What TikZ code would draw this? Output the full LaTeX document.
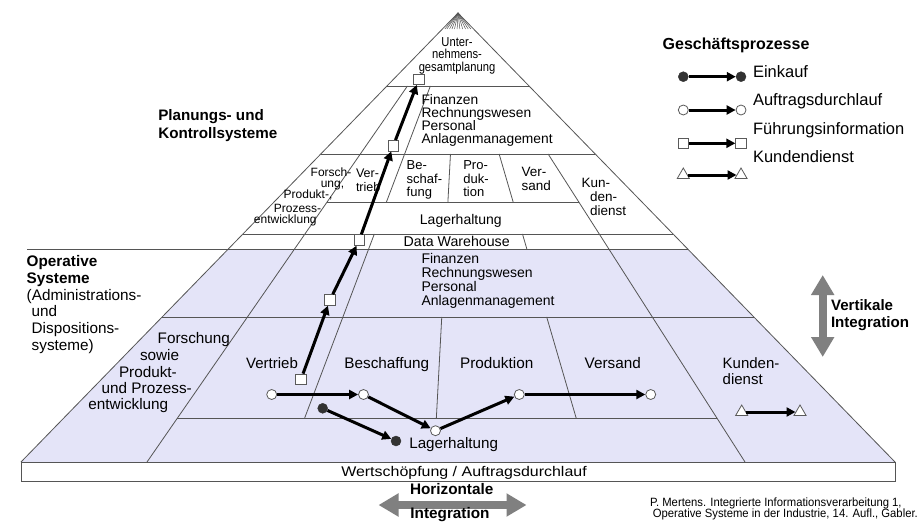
\documentclass[tikz,border=0pt]{standalone}
\usepackage{fontspec}
\setmainfont{Liberation Sans}
\usepackage{graphicx}
\usetikzlibrary{arrows.meta,shapes.geometric}
\definecolor{lav}{RGB}{228,228,248}
\definecolor{ln}{RGB}{85,85,85}
\definecolor{mk}{RGB}{90,90,90}
\definecolor{dot}{RGB}{50,50,50}
\definecolor{garrow}{RGB}{128,128,128}
\newcommand{\radpt}[2]{({458+((#1)-458)/449*((#2)-13)},{#2})}
\newcommand{\fsz}[2]{\fontsize{#1}{#2}\selectfont}
\begin{document}
\begin{tikzpicture}[x=1pt,y=-1pt,
  pl/.style={draw=ln,line width=0.8pt},
  txt/.style={inner sep=0pt,outer sep=0pt},
  ocirc/.style={circle,draw=mk,fill=white,line width=0.8pt,minimum size=10pt,inner sep=0pt},
  fcirc/.style={circle,draw=dot,fill=dot,minimum size=10pt,inner sep=0pt},
  osq/.style={rectangle,draw=mk,fill=white,line width=0.8pt,minimum size=10.5pt,inner sep=0pt},
  otri/.style={regular polygon,regular polygon sides=3,draw=mk,fill=white,line width=0.8pt,minimum size=14pt,inner sep=0pt},
  flow/.style={line width=3pt,-{Triangle[length=9pt,width=9pt]}},
  garr/.style={draw=garrow,line width=8pt,{Triangle[length=20pt,width=22pt]}-{Triangle[length=20pt,width=22pt]}}
]
\useasboundingbox (0,0) rectangle (923,522);
\fill[white] (0,0) rectangle (923,522);

% shaded lower part
\fill[lav] \radpt{21}{249} -- \radpt{895}{249} -- (895,462) -- (21,462) -- cycle;

% pyramid outline and levels
\draw[pl] (21,462) -- (458,13) -- (895,462);
\foreach \yy in {86,154,234,317} \draw[pl] \radpt{21}{\yy} -- \radpt{895}{\yy};
\draw[pl] (27,249) -- \radpt{895}{249};
\draw[pl] \radpt{147}{202} -- \radpt{745}{202};
\draw[pl] \radpt{147}{418} -- \radpt{745}{418};
% radial dividers
\draw[pl] \radpt{147}{86} -- \radpt{147}{462};
\draw[pl] \radpt{288}{86} -- \radpt{288}{202};
\draw[pl] \radpt{288}{234} -- \radpt{288}{418};
\draw[pl] \radpt{434}{154} -- \radpt{434}{202};
\draw[pl] \radpt{434}{317} -- \radpt{434}{418};
\draw[pl] \radpt{589}{154} -- \radpt{589}{202};
\draw[pl] \radpt{589}{234} -- \radpt{589}{249};
\draw[pl] \radpt{589}{317} -- \radpt{589}{418};
\draw[pl] \radpt{745}{154} -- \radpt{745}{462};
% fan at apex
\foreach \bx in {90,147,220,288,360,434,510,589,670,745,820} \draw[ln,line width=0.5pt] (458,13) -- \radpt{\bx}{29};

% base bar
\node[draw=ln,line width=0.8pt,fill=white,minimum width=874pt,minimum height=19pt,anchor=north west,inner sep=0pt] (wsrect) at (21,462) {};
\node[txt,anchor=base,font=\fsz{14}{16}] (wstext) at (464,476.7) {\scalebox{1.14}[1]{Wertschöpfung / Auftragsdurchlauf}};

% texts upper part
\node[txt,anchor=north] (unt) at (457,37.5) {\scalebox{0.86}[1]{\parbox{110pt}{\centering\fsz{13}{12.5}Unter-\\nehmens-\\gesamtplanung}}};
\node[txt,anchor=north west,align=left,font=\fsz{13.8}{12.8}] (fin1) at (421.5,94.3) {Finanzen\\Rechnungswesen\\Personal\\Anlagenmanagement};
\node[txt,anchor=base,font=\fsz{12}{12}] (f1) at (331,176) {Forsch-};
\node[txt,anchor=base,font=\fsz{12}{12}] (f2) at (332.5,187) {ung,};
\node[txt,anchor=base,font=\fsz{12}{12}] (f3) at (308,198.3) {Produkt-,};
\node[txt,anchor=base,font=\fsz{12}{12}] (f4) at (297.5,212) {Prozess-};
\node[txt,anchor=base,font=\fsz{12}{12}] (f5) at (285.3,223.3) {entwicklung};
\node[txt,anchor=north west,align=left,font=\fsz{12.5}{14.4}] (vt1) at (356,168.8) {Ver-\\trieb};
\node[txt,anchor=north west,align=left,font=\fsz{13}{13.8}] (bs1) at (406.7,160.3) {Be-\\schaf-\\fung};
\node[txt,anchor=north west,align=left,font=\fsz{13}{13.8}] (pr1) at (463.3,160.3) {Pro-\\duk-\\tion};
\node[txt,anchor=north west,align=left,font=\fsz{13.5}{14}] (vs1) at (521.7,166.8) {Ver-\\sand};
\node[txt,anchor=base west,font=\fsz{13.5}{14}] (kd1) at (581.7,187.2) {Kun-};
\node[txt,anchor=base west,font=\fsz{13.5}{14}] (kd2) at (590,201.6) {den-};
\node[txt,anchor=base west,font=\fsz{13.5}{14}] (kd3) at (590,215.9) {dienst};
\node[txt,anchor=base,font=\fsz{14}{14}] (lag1) at (460.8,224) {Lagerhaltung};
\node[txt,anchor=base,font=\fsz{14.2}{14}] (dw) at (456.7,246.1) {Data Warehouse};

% texts lower part
\node[txt,anchor=north west,align=left,font=\fsz{14}{13.9}] (fin2) at (421.5,253.3) {Finanzen\\Rechnungswesen\\Personal\\Anlagenmanagement};
\node[txt,anchor=base west,font=\fsz{15.3}{16}] (g1) at (157.7,343.8) {Forschung};
\node[txt,anchor=base west,font=\fsz{15.3}{16}] (g2) at (140,360.5) {sowie};
\node[txt,anchor=base west,font=\fsz{15.3}{16}] (g3) at (119,377.2) {Produkt-};
\node[txt,anchor=base west,font=\fsz{15.3}{16}] (g4) at (101.7,393.8) {und Prozess-};
\node[txt,anchor=base west,font=\fsz{15.3}{16}] (g5) at (88.3,409.5) {entwicklung};
\node[txt,anchor=base,font=\fsz{15}{16}] (vt2) at (272,368.7) {Vertrieb};
\node[txt,anchor=base,font=\fsz{15.3}{16}] (bs2) at (386.8,368.8) {Beschaffung};
\node[txt,anchor=base,font=\fsz{15.3}{16}] (pr2) at (496.7,368.8) {Produktion};
\node[txt,anchor=base,font=\fsz{15.3}{16}] (vs2) at (612.7,368.8) {Versand};
\node[txt,anchor=north west,align=left,font=\fsz{15}{15.7}] (kd4) at (722.7,357.9) {Kunden-\\dienst};
\node[txt,anchor=base west,font=\fsz{15.2}{16}] (lag2) at (409.3,448.8) {Lagerhaltung};

% side texts
\node[txt,anchor=north west,align=left,font=\bfseries\fsz{15.2}{17.7}] (plan) at (158.3,109.5) {Planungs- und\\Kontrollsysteme};
\node[txt,anchor=north west,align=left,font=\fsz{15.3}{16.8}] (oper) at (26.7,255.5) {\textbf{Operative}\\\textbf{Systeme}\\(Administrations-\\\hspace*{5pt}und\\\hspace*{5pt}Dispositions-\\\hspace*{5pt}systeme)};
\node[txt,anchor=north west,align=left,font=\bfseries\fsz{15.1}{16.7}] (vert) at (831,299.6) {Vertikale\\Integration};
\coordinate (va) at (822.7,275);
\coordinate (vb) at (822.7,357);
\draw[garr] (va) -- (vb);
\coordinate (ha) at (378.5,505);
\coordinate (hb) at (526.5,505);
\draw[garr] (ha) -- (hb);
\node[txt,anchor=base,font=\bfseries\fsz{15.3}{16}] (hz1) at (451.7,494.8) {Horizontale};
\node[txt,anchor=base,font=\bfseries\fsz{15.3}{16}] (hz2) at (450,518.2) {Integration};
\node[txt,anchor=north west] (cite) at (650,497.7) {\scalebox{0.94}[1]{\parbox[t]{300pt}{\raggedright\fsz{12}{11.5}P. Mertens. Integrierte Informationsverarbeitung 1,\\\hspace*{3pt}Operative Systeme in der Industrie, 14. Aufl., Gabler.}}};

% legend
\node[txt,anchor=base west,font=\bfseries\fsz{16}{18}] (lgt) at (662.7,49.1) {Geschäftsprozesse};
\node[fcirc] (l1a) at (683.3,76.7) {};
\node[fcirc] (l1b) at (741,76.7) {};
\draw[flow] (l1a) -- (l1b);
\node[ocirc] (l2a) at (683.3,110) {};
\node[ocirc] (l2b) at (741,110) {};
\draw[flow] (l2a) -- (l2b);
\node[osq] (l3a) at (683.3,143.3) {};
\node[osq] (l3b) at (741,143.3) {};
\draw[flow] (l3a) -- (l3b);
\node[otri] (l4a) at (683.3,175) {};
\node[otri] (l4b) at (741,175) {};
\draw[flow] (l4a) -- (l4b);
\node[txt,anchor=base west,font=\fsz{16.5}{18}] (lt1) at (753,77.6) {Einkauf};
\node[txt,anchor=base west,font=\fsz{16.5}{18}] (lt2) at (753,105.9) {Auftragsdurchlauf};
\node[txt,anchor=base west,font=\fsz{16.5}{18}] (lt3) at (753,134.2) {Führungsinformation};
\node[txt,anchor=base west,font=\fsz{16.5}{18}] (lt4) at (753,162.6) {Kundendienst};

% process markers
\node[osq] (s1) at (301,379.3) {};
\node[osq] (s2) at (330,300) {};
\node[osq] (s3) at (359.3,240) {};
\node[osq] (s4) at (393.3,145.7) {};
\node[osq] (s5) at (419,79.3) {};
\draw[flow] (s1) -- (s2);
\draw[flow] (s2) -- (s3);
\draw[flow] (s3) -- (s4);
\draw[flow] (s4) -- (s5);
\node[ocirc] (c1) at (271.7,394.5) {};
\node[ocirc] (c2) at (363.5,394.5) {};
\node[ocirc] (c3) at (435.5,430.7) {};
\node[ocirc] (c4) at (519.3,394.5) {};
\node[ocirc] (c5) at (650.7,394.5) {};
\draw[flow] (c1) -- (c2);
\draw[flow] (c2) -- (c3);
\draw[flow] (c3) -- (c4);
\draw[flow] (c4) -- (c5);
\node[fcirc] (e1) at (322.7,408.3) {};
\node[fcirc] (e2) at (396,441) {};
\draw[flow] (e1) -- (e2);
\node[otri] (t1) at (741.7,412) {};
\node[otri] (t2) at (800,412) {};
\draw[flow] (t1) -- (t2);
\end{tikzpicture}
\end{document}
